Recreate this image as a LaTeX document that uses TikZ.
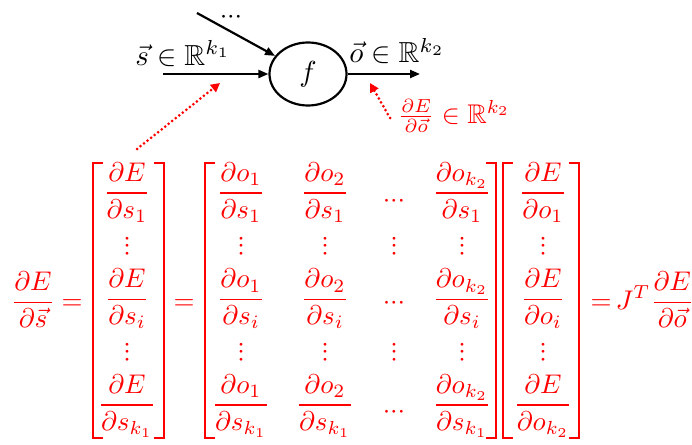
\documentclass[tikz,border=0pt]{standalone}
\usepackage{graphicx}
\usepackage{amsmath,amssymb}
\usetikzlibrary{arrows.meta,shapes.geometric}
\newcommand\mydots{{\cdot}{\cdot}{\cdot}}
\newcommand\Mx[1]{\scalebox{2.7}{$\displaystyle #1$}}
\newcommand\Mt[1]{\scalebox{2.7}{$#1$}}
\newcommand\Ml[1]{\scalebox{2.9}{$#1$}}
\begin{document}
\begin{tikzpicture}[x=1pt,y=-1pt,
  eq/.style={red,inner sep=0pt,anchor=base},
  lbl/.style={black,inner sep=0pt,anchor=base},
  hdots/.style={inner sep=0pt,text height=13.5pt,text depth=0pt},
  vdotsn/.style={hdots,rotate=90,red},
  bk/.style={red,line width=2.3pt,line join=miter},
  blk/.style={black,line width=2.2pt,-{Triangle[length=10pt,width=8pt]}},
  rdot/.style={red,line width=3pt,line cap=round,dash pattern=on 0pt off 4.5pt,
               -{Triangle[length=9pt,width=9pt]}}]
\useasboundingbox (0,0) rectangle (692,444);

% ---------- top network ----------
\node[ellipse,draw,line width=2.2pt,minimum width=77pt,minimum height=63pt,
      inner sep=0pt] (f) at (308,74) {\Ml{f}};
\coordinate (sIn) at (163,74);
\coordinate (oOut) at (420,74);
\coordinate (upIn) at (197,13);
\draw[blk] (sIn) -- (f);
\draw[blk] (upIn) -- (f);
\draw[blk] (f) -- (oOut);
\node[hdots,black] (topdots) at (231,17) {\Mt{\mydots}};
\node[lbl] (slab) at (183,65) {\Ml{\vec{s}\in\mathbb{R}^{k_1}}};
\node[lbl] (olab) at (397,63) {\Ml{\vec{o}\in\mathbb{R}^{k_2}}};
\node[eq,anchor=base west] (dlab) at (398,123) {\Mt{\frac{\partial E}{\partial\vec{o}}\in\mathbb{R}^{k_2}}};

\coordinate (a1s) at (137,149);
\coordinate (a1e) at (220,83);
\coordinate (a2s) at (390,118);
\coordinate (a2e) at (370,83);
\draw[rdot] (a1s) -- (a1e);
\draw[rdot] (a2s) -- (a2e);

% ---------- equation ----------
\node[eq] (lhs) at (33,309.25) {\Mx{\frac{\partial E}{\partial\vec{s}}}};
\node[eq] (eq1) at (72,309.25) {\Mx{=}};
\node[eq] (eq2) at (184,309.75) {\Mx{=}};
\node[eq] (eq3) at (601,309.75) {\Mx{=}};
\node[eq] (rhs) at (655,309.25) {\Mx{J^{T}\frac{\partial E}{\partial\vec{o}}}};

% vector 1
\node[eq] (v11) at (127,199.75) {\Mx{\frac{\partial E}{\partial s_1}}};
\node[eq] (v1i) at (127,306.25) {\Mx{\frac{\partial E}{\partial s_i}}};
\node[eq] (v1k) at (127,411.75) {\Mx{\frac{\partial E}{\partial s_{k_1}}}};

% matrix
\node[eq] (m11) at (241,199.75) {\Mx{\frac{\partial o_1}{\partial s_1}}};
\node[eq] (m12) at (325,199.75) {\Mx{\frac{\partial o_2}{\partial s_1}}};
\node[hdots,red] (m1d) at (394,201) {\Mt{\mydots}};
\node[eq] (m1k) at (462,199.75) {\Mx{\frac{\partial o_{k_2}}{\partial s_1}}};
\node[eq] (mi1) at (241,306.25) {\Mx{\frac{\partial o_1}{\partial s_i}}};
\node[eq] (mi2) at (325,306.25) {\Mx{\frac{\partial o_2}{\partial s_i}}};
\node[hdots,red] (mid) at (394,303) {\Mt{\mydots}};
\node[eq] (mik) at (462,306.25) {\Mx{\frac{\partial o_{k_2}}{\partial s_i}}};
\node[eq] (mk1) at (241,411.75) {\Mx{\frac{\partial o_1}{\partial s_{k_1}}}};
\node[eq] (mk2) at (325,411.75) {\Mx{\frac{\partial o_2}{\partial s_{k_1}}}};
\node[hdots,red] (mkd) at (394,412) {\Mt{\mydots}};
\node[eq] (mkk) at (462,411.75) {\Mx{\frac{\partial o_{k_2}}{\partial s_{k_1}}}};

% vector 2
\node[eq] (v21) at (543,199.75) {\Mx{\frac{\partial E}{\partial o_1}}};
\node[eq] (v2i) at (543,306.25) {\Mx{\frac{\partial E}{\partial o_i}}};
\node[eq] (v2k) at (543,411.75) {\Mx{\frac{\partial E}{\partial o_{k_2}}}};

% vertical dots
\foreach \x/\n in {127/a,241/b,325/c,394/d,462/e,543/g}{
  \node[vdotsn] (vu\n) at (\x,246) {\Mt{\mydots}};
  \node[vdotsn] (vl\n) at (\x,352) {\Mt{\mydots}};
}

% brackets
\draw[bk] (103,163) -- (93,163) -- (93,438) -- (103,438);
\draw[bk] (154,163) -- (164,163) -- (164,438) -- (154,438);
\draw[bk] (215,163) -- (205,163) -- (205,438) -- (215,438);
\draw[bk] (486,163) -- (496,163) -- (496,438) -- (486,438);
\draw[bk] (513,163) -- (503,163) -- (503,438) -- (513,438);
\draw[bk] (569,163) -- (579,163) -- (579,438) -- (569,438);
\end{tikzpicture}
\end{document}
